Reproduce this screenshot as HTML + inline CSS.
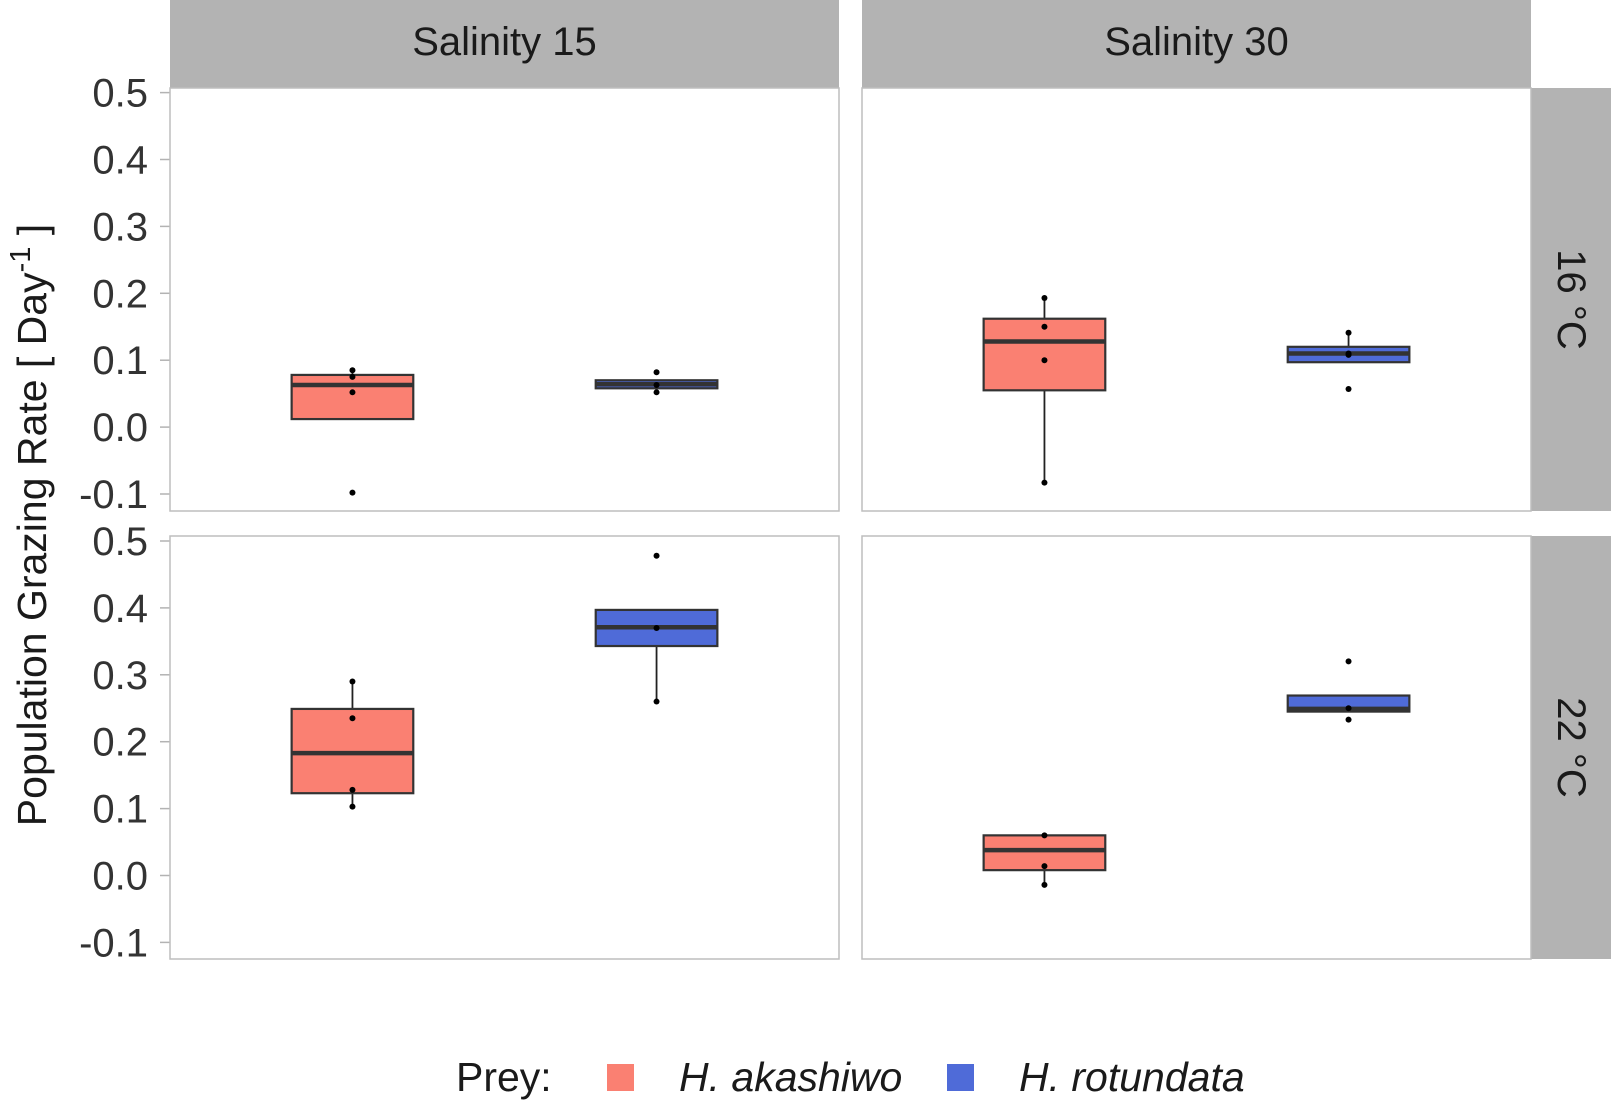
<!DOCTYPE html>
<html><head><meta charset="utf-8"><style>
body{margin:0;background:#fff;}
svg{display:block;font-family:"Liberation Sans",sans-serif;}
</style></head><body>
<svg id="chart" width="1614" height="1106" viewBox="0 0 1614 1106"></svg>
<script>
const panelCols = ["Salinity 15","Salinity 30"];
const panelRows = ["16 °C","22 °C"];
const categories = ["H. akashiwo","H. rotundata"];
const yTicks = [-0.1,0,0.1,0.2,0.3,0.4,0.5];
const yTickLabels = ["-0.1","0.0","0.1","0.2","0.3","0.4","0.5"];
// per panel [row][col][category]: [whiskerLow, q1, median, q3, whiskerHigh]
const boxStats = [
 [[[0.012,0.012,0.063,0.078,0.085],[0.058,0.058,0.064,0.070,0.070]],
  [[-0.083,0.055,0.128,0.162,0.193],[0.097,0.097,0.110,0.120,0.141]]],
 [[[0.103,0.123,0.183,0.249,0.290],[0.260,0.343,0.371,0.397,0.397]],
  [[-0.014,0.008,0.038,0.060,0.060],[0.245,0.245,0.249,0.269,0.269]]]
];
const points = [
 [[[0.085,0.075,0.052,-0.098],[0.082,0.063,0.052]],
  [[0.193,0.150,0.100,-0.083],[0.141,0.110,0.108,0.057]]],
 [[[0.290,0.235,0.128,0.103],[0.478,0.370,0.260]],
  [[0.060,0.014,-0.014],[0.320,0.250,0.233]]]
];
const colors = ["#FA8072","#4F6BD8"];

const NS="http://www.w3.org/2000/svg";
const svg=document.getElementById('chart');
function mk(tag,attrs,parent){const e=document.createElementNS(NS,tag);for(const k in attrs)e.setAttribute(k,attrs[k]);(parent||svg).appendChild(e);return e;}
const colX=[170,862], panelW=669, rowY=[88,536], panelH=423;
const yTop=[92.6,541], unit=669;
function yScale(r,v){return yTop[r]+(0.5-v)*unit;}
function xScale(c,i){return colX[c]+panelW*(0.6+i)/2.2;}
const halfW=0.2*panelW/2.2;

panelCols.forEach((t,c)=>{
 const g=mk('g',{});
 
 
 mk('rect',{x:colX[c],y:0,width:panelW,height:88,fill:'#B3B3B3'},g);
 const tx=mk('text',{x:colX[c]+panelW/2,y:55,'text-anchor':'middle','font-size':40,fill:'#1a1a1a'},g);tx.textContent=t;
});
panelRows.forEach((t,r)=>{
 const g=mk('g',{});
 
 
 mk('rect',{x:1531,y:rowY[r],width:80,height:panelH,fill:'#B3B3B3'},g);
 const cx=1571, cy=rowY[r]+panelH/2;
 const tx=mk('text',{x:cx,y:cy,'text-anchor':'middle','dominant-baseline':'central','font-size':40,fill:'#1a1a1a',transform:`rotate(90 ${cx} ${cy})`},g);tx.textContent=t;
});
for(let r=0;r<2;r++){
 const ax=mk('g',{});
 
 
 yTicks.forEach((v,i)=>{
  const y=yScale(r,v);
  mk('line',{x1:160,x2:170,y1:y,y2:y,stroke:'#B3B3B3','stroke-width':1.5},ax);
  const t=mk('text',{x:148,y:y+14,'text-anchor':'end','font-size':40,fill:'#333'},ax);t.textContent=yTickLabels[i];
 });
 for(let c=0;c<2;c++){
  const g=mk('g',{});
  
  
  mk('rect',{x:colX[c],y:rowY[r],width:panelW,height:panelH,fill:'#fff',stroke:'#BEBEBE','stroke-width':1.5},g);
  categories.forEach((cat,i)=>{
   const s=boxStats[r][c][i], x=xScale(c,i);
   const b=mk('g',{},g);
   
   
   mk('line',{x1:x,x2:x,y1:yScale(r,s[0]),y2:yScale(r,s[1]),stroke:'#222','stroke-width':1.8},b);
   mk('line',{x1:x,x2:x,y1:yScale(r,s[3]),y2:yScale(r,s[4]),stroke:'#222','stroke-width':1.8},b);
   mk('rect',{x:x-halfW,y:yScale(r,s[3]),width:2*halfW,height:yScale(r,s[1])-yScale(r,s[3]),fill:colors[i],stroke:'#333','stroke-width':2.2},b);
   mk('line',{x1:x-halfW,x2:x+halfW,y1:yScale(r,s[2]),y2:yScale(r,s[2]),stroke:'#333','stroke-width':4.5},b);
   points[r][c][i].forEach(v=>{
    const p=mk('circle',{cx:x,cy:yScale(r,v),r:3,fill:'#000'},b);
    
    
   });
  });
 }
}
const yt=mk('text',{x:0,y:0,'text-anchor':'middle','font-size':41,fill:'#1a1a1a',transform:'translate(46 525) rotate(-90)'});


yt.innerHTML='Population Grazing Rate [ Day<tspan dy="-16" font-size="29">-1</tspan><tspan dy="16"> ]</tspan>';
const lg=mk('g',{});


const lt=mk('text',{x:456,y:1091,'font-size':41,fill:'#1a1a1a'},lg);lt.textContent='Prey:';
const lx=[607,947], tx=[679,1019];
categories.forEach((cat,i)=>{
 const e=mk('g',{},lg);
 
 
 mk('rect',{x:lx[i],y:1064,width:27,height:27,fill:colors[i]},e);
 const t=mk('text',{x:tx[i],y:1091,'font-size':41,'font-style':'italic',fill:'#1a1a1a'},e);t.textContent=cat;
});
</script>
</body></html>
